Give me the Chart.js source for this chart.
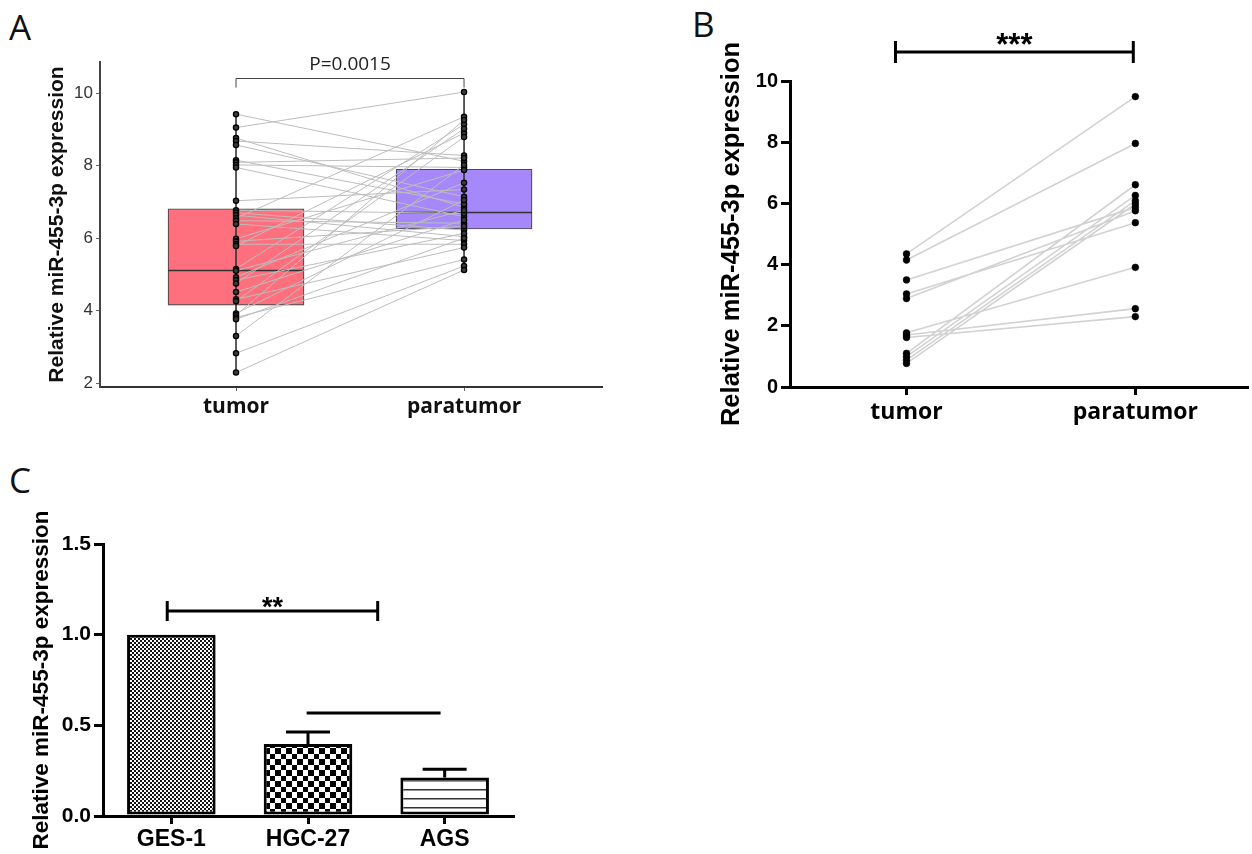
<!DOCTYPE html>
<html><head><meta charset="utf-8">
<script src="https://cdn.jsdelivr.net/npm/chart.js@4.4.1/dist/chart.umd.min.js"></script>
<style>
html,body{margin:0;padding:0;background:#fff;width:1252px;height:854px;overflow:hidden;position:relative}
.box{position:absolute}
.lbl{position:absolute;font-family:'Open Sans',sans-serif;font-size:35px;line-height:35px;color:#111}
</style></head><body>
<div class="lbl" style="left:9px;top:9px">A</div>
<div class="lbl" style="left:692px;top:6px">B</div>
<div class="lbl" style="left:9px;top:462px">C</div>
<div class="box" style="left:0;top:0;width:620px;height:440px"><canvas id="cA"></canvas></div>
<div class="box" style="left:680px;top:0;width:572px;height:440px"><canvas id="cB"></canvas></div>
<div class="box" style="left:0;top:440px;width:620px;height:414px"><canvas id="cC"></canvas></div>
<script>
// ---------- DATA ----------
const yTitle = 'Relative miR-455-3p expression';
// Panel A
const catA = ['tumor', 'paratumor'];
const tumorA = [9.42, 9.05, 8.76, 8.68, 8.57, 8.15, 8.09, 8.02, 7.95, 7.03, 6.77, 6.70, 6.63, 6.55, 6.48, 6.39, 5.98, 5.91, 5.83, 5.78, 5.15, 5.10, 4.92, 4.84, 4.75, 4.51, 4.31, 4.26, 3.92, 3.87, 3.81, 3.76, 3.30, 2.82, 2.29];
const paraA  = [8.12, 10.03, 6.85, 8.28, 7.14, 6.94, 8.21, 7.95, 6.59, 7.34, 6.68, 6.22, 6.04, 9.35, 6.41, 5.93, 7.88, 6.33, 5.83, 8.90, 9.14, 6.77, 7.53, 6.13, 9.02, 6.50, 5.74, 8.79, 7.05, 9.26, 5.41, 6.00, 8.02, 5.23, 5.12];
const boxQ1A  = [4.15, 6.25];
const boxMedA = [5.12, 6.72];
const boxQ3A  = [6.81, 7.90];
const yTicksA = [2, 4, 6, 8, 10];
const pLabelA = 'P=0.0015';
// Panel B
const catB = ['tumor', 'paratumor'];
const tumorB = [4.35, 4.15, 3.50, 3.04, 2.89, 1.77, 1.70, 1.62, 1.10, 0.99, 0.88, 0.77];
const paraB  = [9.49, 7.96, 5.87, 5.37, 5.76, 3.91, 2.56, 2.30, 6.61, 6.26, 6.09, 5.98];
const yTicksB = [0, 2, 4, 6, 8, 10];
const sigB = '***';
// Panel C
const catC = ['GES-1', 'HGC-27', 'AGS'];
const meanC = [1.0, 0.397, 0.213];
const errC  = [0, 0.066, 0.045];
const yTicksC = [0, 0.5, 1.0, 1.5];
const sigC = '**';

Chart.defaults.animation = false;
Chart.defaults.plugins.legend.display = false;
Chart.defaults.plugins.tooltip.enabled = false;

const ARIAL = "'Liberation Sans', Arial, sans-serif";
const OPEN = "'Open Sans', sans-serif";

// ---------- PANEL A ----------
const pairLineA = tumorA.flatMap((t, i) => [{x: 1, y: t}, {x: 2, y: paraA[i]}, {x: 1.5, y: null}]);
const pointsA = tumorA.map(t => ({x: 1, y: t})).concat(paraA.map(p => ({x: 2, y: p})));
const groupsA = [tumorA, paraA];

const annotA = {
  id: 'annotA',
  afterDatasetDraw(chart, args) {
    if (args.index !== 0) return;
    const meta = chart.getDatasetMeta(0), y = chart.scales.y, ctx = chart.ctx;
    ctx.save();
    ctx.strokeStyle = '#333'; ctx.lineWidth = 1.6;
    meta.data.forEach((bar, i) => {
      const py = Math.round(y.getPixelForValue(boxMedA[i])) + 0.5;
      ctx.beginPath(); ctx.moveTo(bar.x - bar.width / 2, py); ctx.lineTo(bar.x + bar.width / 2, py); ctx.stroke();
    });
    ctx.restore();
  },
  afterDraw(chart) {
    const x = chart.scales.x, y = chart.scales.y, ctx = chart.ctx;
    const x1 = x.getPixelForValue(1), x2 = x.getPixelForValue(2);
    const yb = Math.round(y.getPixelForValue(10.41)) + 0.5;
    ctx.save();
    ctx.strokeStyle = '#444'; ctx.lineWidth = 1;
    ctx.beginPath(); ctx.moveTo(x1, yb + 9); ctx.lineTo(x1, yb); ctx.lineTo(x2, yb); ctx.lineTo(x2, yb + 9); ctx.stroke();
    ctx.fillStyle = '#222'; ctx.font = '19px ' + OPEN; ctx.textAlign = 'center'; ctx.textBaseline = 'alphabetic';
    ctx.fillText(pLabelA, (x1 + x2) / 2, yb - 8.5);
    ctx.restore();
  }
};

new Chart(document.getElementById('cA'), {
  type: 'bar',
  data: {
    datasets: [
      { type: 'bar', data: catA.map((c, i) => ({x: i + 1, y: [boxQ1A[i], boxQ3A[i]]})),
        backgroundColor: ['rgb(255,112,127)', 'rgb(167,136,250)'], borderColor: '#4a4a4a', borderWidth: 1.2,
        borderSkipped: false, barThickness: 136, order: 10 },
      ...groupsA.map((g, i) => ({ type: 'line', data: [{x: i + 1, y: Math.min(...g)}, {x: i + 1, y: Math.max(...g)}],
        borderColor: '#333', borderWidth: 1.6, pointRadius: 0, order: 8 })),
      { type: 'line', data: pairLineA, borderColor: '#bdbdbd', borderWidth: 1, pointRadius: 0, spanGaps: false, order: 5 },
      { type: 'line', data: pointsA, showLine: false, pointRadius: 2.6, pointBackgroundColor: '#3a3a3a',
        pointBorderColor: '#000', pointBorderWidth: 1.3, order: 1 }
    ]
  },
  options: {
    responsive: true, maintainAspectRatio: false,
    layout: { padding: { left: 45, top: 62, right: 18, bottom: 0 } },
    scales: {
      x: { type: 'linear', min: 0.4035, max: 2.605, offset: false,
        afterBuildTicks: s => { s.ticks = [{value: 1}, {value: 2}]; },
        afterFit: s => { s.height = 53; },
        ticks: { callback: v => catA[v - 1], font: { family: OPEN, size: 21, weight: 'bold' }, color: '#111', padding: 3, maxRotation: 0 },
        grid: { display: true, drawOnChartArea: false, offset: false, tickLength: 4, color: '#666', lineWidth: 1 },
        border: { display: true, color: '#333', width: 2 } },
      y: { type: 'linear', min: 1.89, max: 10.86,
        afterBuildTicks: s => { s.ticks = yTicksA.map(v => ({value: v})); },
        afterFit: s => { s.width = 55; },
        ticks: { font: { family: ARIAL, size: 17 }, color: '#333', padding: 3 },
        grid: { display: true, drawOnChartArea: false, offset: false, tickLength: 4, color: '#666', lineWidth: 1 },
        border: { display: true, color: '#444', width: 2 },
        title: { display: true, text: yTitle, font: { family: ARIAL, size: 21, weight: 'bold' }, color: '#111', padding: 0 } }
    }
  },
  plugins: [annotA]
});

// ---------- PANEL B ----------
const pairLineB = tumorB.flatMap((t, i) => [{x: 1, y: t}, {x: 2, y: paraB[i]}, {x: 1.5, y: null}]);
const pointsB = tumorB.map(t => ({x: 1, y: t})).concat(paraB.map(p => ({x: 2, y: p})));
const annotB = {
  id: 'annotB',
  afterDraw(chart) {
    const x = chart.scales.x, y = chart.scales.y, ctx = chart.ctx;
    const x1 = x.getPixelForValue(0.952), x2 = x.getPixelForValue(1.991);
    const yb = Math.round(y.getPixelForValue(10.95));
    ctx.save();
    ctx.strokeStyle = '#000'; ctx.lineWidth = 3; ctx.lineCap = 'butt';
    ctx.beginPath(); ctx.moveTo(x1, yb); ctx.lineTo(x2, yb); ctx.stroke();
    ctx.beginPath(); ctx.moveTo(x1, yb - 11); ctx.lineTo(x1, yb + 11); ctx.moveTo(x2, yb - 11); ctx.lineTo(x2, yb + 11); ctx.stroke();
    ctx.fillStyle = '#000'; ctx.font = 'bold 31px ' + ARIAL; ctx.textAlign = 'center'; ctx.textBaseline = 'alphabetic';
    ctx.fillText(sigB, (x1 + x2) / 2, yb + 3);
    ctx.restore();
  }
};
new Chart(document.getElementById('cB'), {
  type: 'line',
  data: {
    datasets: [
      { data: pairLineB, borderColor: '#d2d2d2', borderWidth: 1.6, pointRadius: 0, spanGaps: false, order: 5 },
      { data: pointsB, showLine: false, pointRadius: 3.4, pointBackgroundColor: '#000', pointBorderColor: '#000', pointBorderWidth: 0.5, order: 1 }
    ]
  },
  options: {
    responsive: true, maintainAspectRatio: false,
    layout: { padding: { left: 37, top: 81, right: 2, bottom: 0 } },
    scales: {
      x: { type: 'linear', min: 0.491, max: 2.49, offset: false,
        afterBuildTicks: s => { s.ticks = [{value: 1}, {value: 2}]; },
        afterFit: s => { s.height = 53; },
        ticks: { callback: v => catB[v - 1], font: { family: OPEN, size: 23, weight: 'bold' }, color: '#000', padding: 4, maxRotation: 0 },
        grid: { display: true, drawOnChartArea: false, offset: false, tickLength: 8, color: '#000', lineWidth: 3 },
        border: { display: true, color: '#000', width: 3 } },
      y: { type: 'linear', min: 0, max: 10,
        afterBuildTicks: s => { s.ticks = yTicksB.map(v => ({value: v})); },
        afterFit: s => { s.width = 73; },
        ticks: { font: { family: ARIAL, size: 20, weight: 'bold' }, color: '#000', padding: 3 },
        grid: { display: true, drawOnChartArea: false, offset: false, tickLength: 9, color: '#000', lineWidth: 3 },
        border: { display: true, color: '#000', width: 3 },
        title: { display: true, text: yTitle, font: { family: ARIAL, size: 25.5, weight: 'bold' }, color: '#000', padding: 0 } }
    }
  },
  plugins: [annotB]
});

// ---------- PANEL C ----------
function makePattern(kind) {
  const c = document.createElement('canvas'), g = c.getContext('2d');
  if (kind === 'fine') {
    c.width = 4; c.height = 4; g.fillStyle = '#fff'; g.fillRect(0, 0, 4, 4);
    g.fillStyle = '#111'; g.fillRect(0, 0, 2, 2); g.fillRect(2, 2, 2, 2);
  } else if (kind === 'check') {
    c.width = 11; c.height = 11; g.fillStyle = '#fff'; g.fillRect(0, 0, 11, 11);
    g.fillStyle = '#000'; g.fillRect(0, 0, 6, 6); g.fillRect(6, 6, 5, 5);
  } else {
    c.width = 8; c.height = 9; g.fillStyle = '#fff'; g.fillRect(0, 0, 8, 9);
    g.fillStyle = '#333'; g.fillRect(0, 7, 8, 1.5);
  }
  return g.createPattern(c, 'repeat');
}
const annotC = {
  id: 'annotC',
  afterDatasetsDraw(chart) {
    const meta = chart.getDatasetMeta(0), x = chart.scales.x, y = chart.scales.y, ctx = chart.ctx;
    ctx.save();
    ctx.strokeStyle = '#000'; ctx.lineWidth = 3; ctx.lineCap = 'butt';
    meta.data.forEach((bar, i) => {
      if (!errC[i]) return;
      const yt = y.getPixelForValue(meanC[i] + errC[i]), yv = y.getPixelForValue(meanC[i]);
      ctx.beginPath(); ctx.moveTo(bar.x, yv); ctx.lineTo(bar.x, yt);
      ctx.moveTo(bar.x - 22, yt); ctx.lineTo(bar.x + 22, yt); ctx.stroke();
    });
    // significance bracket
    const xa = x.getPixelForValue(-0.03), xb = x.getPixelForValue(1.51), yb = Math.round(y.getPixelForValue(1.13));
    ctx.beginPath(); ctx.moveTo(xa, yb); ctx.lineTo(xb, yb);
    ctx.moveTo(xa, yb - 10); ctx.lineTo(xa, yb + 10); ctx.moveTo(xb, yb - 10); ctx.lineTo(xb, yb + 10); ctx.stroke();
    ctx.fillStyle = '#000'; ctx.font = 'bold 27px ' + ARIAL; ctx.textAlign = 'center'; ctx.textBaseline = 'alphabetic';
    ctx.fillText(sigC, (xa + xb) / 2, yb + 5);
    // second line
    const xc = x.getPixelForValue(0.99), xd = x.getPixelForValue(1.97), yl = Math.round(y.getPixelForValue(0.568));
    ctx.beginPath(); ctx.moveTo(xc, yl); ctx.lineTo(xd, yl); ctx.stroke();
    ctx.restore();
  }
};
new Chart(document.getElementById('cC'), {
  type: 'bar',
  data: {
    labels: catC,
    datasets: [{ data: meanC, backgroundColor: [makePattern('fine'), makePattern('check'), makePattern('lines')],
      borderColor: '#000', borderWidth: 3, borderSkipped: false, barPercentage: 0.72, categoryPercentage: 0.9 }]
  },
  options: {
    responsive: true, maintainAspectRatio: false,
    layout: { padding: { left: 28, top: 104, right: 107, bottom: 0 } },
    scales: {
      x: { afterFit: s => { s.height = 38; },
        ticks: { font: { family: ARIAL, size: 23, weight: 'bold' }, color: '#000', padding: 2, maxRotation: 0 },
        grid: { display: true, drawOnChartArea: false, offset: false, tickLength: 8, color: '#000', lineWidth: 3 },
        border: { display: true, color: '#000', width: 3 } },
      y: { type: 'linear', min: 0, max: 1.5,
        afterBuildTicks: s => { s.ticks = yTicksC.map(v => ({value: v})); },
        afterFit: s => { s.width = 75; },
        ticks: { callback: v => v.toFixed(1), font: { family: ARIAL, size: 21, weight: 'bold' }, color: '#000', padding: 3 },
        grid: { display: true, drawOnChartArea: false, offset: false, tickLength: 9, color: '#000', lineWidth: 3 },
        border: { display: true, color: '#000', width: 3 },
        title: { display: true, text: yTitle, font: { family: ARIAL, size: 22.5, weight: 'bold' }, color: '#000', padding: 0 } }
    }
  },
  plugins: [annotC]
});
</script>
</body></html>
